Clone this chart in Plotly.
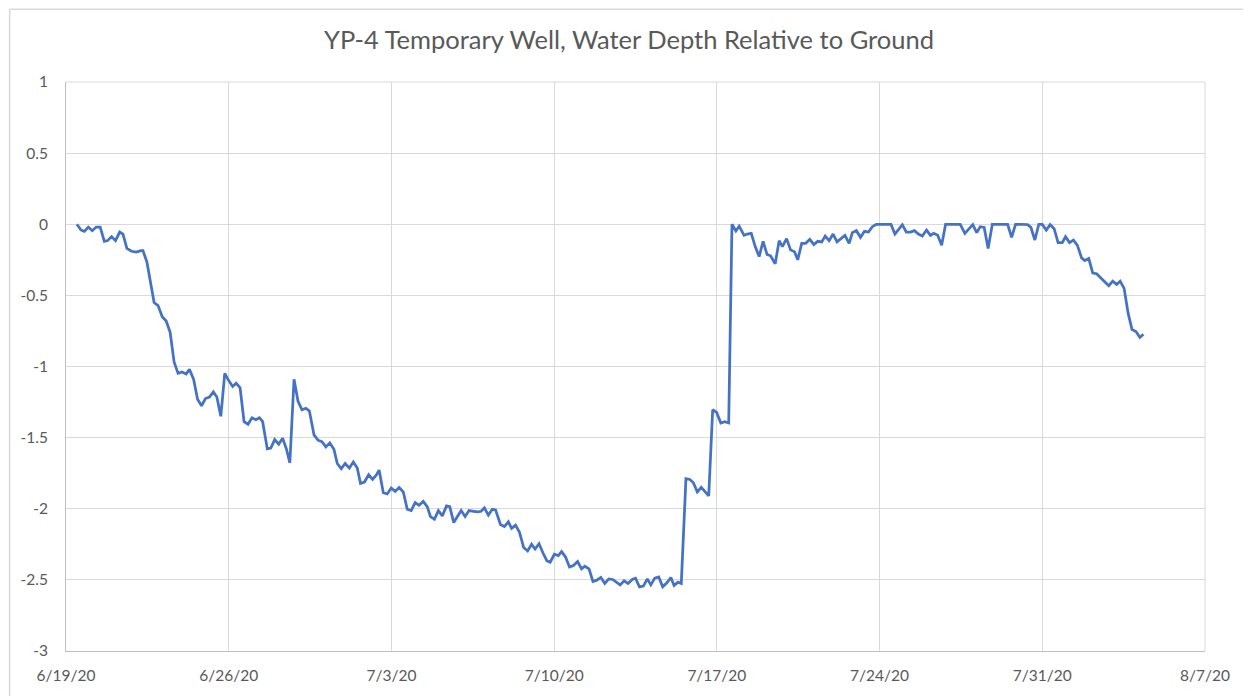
import pandas as pd
import plotly.graph_objects as go

# elapsed days since 6/19/20 00:00
days = [0.47, 0.64, 0.79, 0.96, 1.13, 1.30, 1.47, 1.65, 1.79, 1.96, 2.13, 2.31, 2.45, 2.62, 2.82, 3.02,
        3.22, 3.31, 3.48, 3.65, 3.79, 3.96, 4.14, 4.31, 4.48, 4.65, 4.82, 4.99, 5.17, 5.31, 5.49, 5.66,
        5.83, 6.00, 6.17, 6.34, 6.49, 6.66,
        6.83, 7.00, 7.17, 7.32, 7.49, 7.66, 7.83, 8.00, 8.17, 8.32, 8.46, 8.66, 8.81, 8.98, 9.15, 9.32,
        9.49, 9.63, 9.81, 9.98, 10.15, 10.32, 10.47, 10.67, 10.84, 11.01, 11.18, 11.35, 11.53, 11.67,
        11.84, 12.01, 12.19, 12.36, 12.53, 12.67, 12.84, 13.02, 13.19, 13.36, 13.47, 13.65, 13.82, 13.99,
        14.16, 14.33, 14.51, 14.68, 14.85, 15.02, 15.19, 15.37, 15.54, 15.68, 15.85, 16.02, 16.19, 16.37,
        16.51, 16.68, 16.85, 17.00,
        17.17, 17.34, 17.54, 17.71, 17.86, 18.00, 18.17, 18.34, 18.48, 18.69, 18.86, 19.03, 19.17, 19.34,
        19.51, 19.69, 19.86, 20.03, 20.18, 20.35, 20.52, 20.69, 20.83, 21.01, 21.18, 21.32, 21.49, 21.66,
        21.83, 22.01, 22.18, 22.32, 22.50, 22.67, 22.84, 23.01, 23.18, 23.35, 23.52, 23.70, 23.84, 24.01,
        24.18, 24.36, 24.50, 24.67, 24.84, 25.01, 25.16, 25.33, 25.50, 25.67, 25.85, 26.02, 26.16, 26.33,
        26.47, 26.67, 26.84, 26.99, 27.16, 27.33, 27.50, 27.65, 27.82, 27.99, 28.17, 28.34, 28.51,
        28.65, 28.82, 28.96, 29.17, 29.31, 29.48, 29.65, 29.82, 29.99, 30.16, 30.31, 30.51, 30.68, 30.82,
        31.00, 31.17, 31.34, 31.48, 31.65, 31.82, 32.00, 32.17, 32.34, 32.51, 32.66, 32.83, 33.00, 33.17,
        33.34, 33.51, 33.69, 33.83, 34.00, 34.18, 34.35, 34.52, 34.69, 34.86, 35.00, 35.18, 35.35, 35.49,
        35.66, 35.84, 35.98, 36.15, 36.33, 36.50, 36.67, 36.84, 37.02, 37.19, 37.33, 37.50, 37.67, 37.84,
        38.01, 38.19, 38.36, 38.47, 38.67, 38.84, 39.01, 39.18, 39.33, 39.50, 39.67, 39.85, 40.02, 40.19,
        40.36, 40.51, 40.68, 40.85, 41.02, 41.19, 41.37, 41.51, 41.68, 41.85, 42.00, 42.17, 42.34, 42.51,
        42.68, 42.86, 43.00, 43.17, 43.34, 43.51, 43.69, 43.83, 44.00, 44.17, 44.34, 44.51, 44.69, 44.86,
        45.03, 45.20, 45.35, 45.52, 45.69, 45.86, 46.03, 46.20, 46.35]

depth = [0.00, -0.04, -0.05, -0.02, -0.045, -0.02, -0.02, -0.12, -0.115, -0.087, -0.115, -0.055, -0.07,
         -0.17, -0.19, -0.195, -0.185, -0.185, -0.265, -0.437, -0.55, -0.572, -0.65, -0.68, -0.76, -0.968,
         -1.048, -1.038, -1.052, -1.02, -1.09, -1.23, -1.276, -1.225, -1.215, -1.178, -1.215, -1.35,
         -1.048, -1.099, -1.14, -1.117, -1.15, -1.388, -1.406, -1.36, -1.374, -1.36, -1.388, -1.579, -1.574,
         -1.514, -1.546, -1.504, -1.584, -1.677, -1.09, -1.243, -1.304, -1.294, -1.313, -1.481, -1.518,
         -1.528, -1.565, -1.537, -1.584, -1.682, -1.719, -1.682, -1.714, -1.672, -1.714, -1.822, -1.812,
         -1.761, -1.794, -1.761, -1.728, -1.887, -1.896, -1.854, -1.878, -1.85, -1.882, -2.003, -2.013,
         -1.957, -1.976, -1.948, -1.985, -2.055, -2.073, -2.013, -2.05, -1.98, -1.985, -2.097, -2.055,
         -2.013,
         -2.055, -2.013, -2.018, -2.022, -2.018, -1.994, -2.045, -2.004, -2.008, -2.111, -2.125, -2.092,
         -2.138, -2.115, -2.166, -2.273, -2.297, -2.25, -2.283, -2.246, -2.311, -2.367, -2.376, -2.32,
         -2.329, -2.301, -2.339, -2.409, -2.399, -2.371, -2.423, -2.404, -2.423, -2.511, -2.502, -2.483,
         -2.525, -2.493, -2.497, -2.516, -2.535, -2.507, -2.525, -2.497, -2.488, -2.549, -2.544, -2.493,
         -2.535, -2.488, -2.479, -2.549, -2.521, -2.483, -2.539, -2.516, -2.525, -1.789, -1.794, -1.817,
         -1.882, -1.85, -1.878, -1.91, -1.304, -1.323, -1.397, -1.388, -1.397,
         0.00, -0.047, -0.013, -0.078, -0.069, -0.064, -0.157, -0.227, -0.12, -0.213, -0.222, -0.278,
         -0.115, -0.157, -0.101, -0.18, -0.194, -0.25, -0.134, -0.134, -0.106, -0.143, -0.12, -0.124,
         -0.083, -0.115, -0.069, -0.124, -0.101, -0.078, -0.134, -0.059, -0.045, -0.092, -0.05, -0.055,
         -0.017, 0.00, 0.00, 0.00, 0.00, 0.00, -0.069, -0.031, -0.003, -0.055, -0.055, -0.045, -0.069,
         -0.083, -0.041, -0.078, -0.064, -0.078, -0.148, 0.00, 0.00, 0.00, 0.00, 0.00, -0.064, -0.036,
         -0.003, -0.059, -0.017, -0.022, -0.171, 0.00, 0.00, 0.00, 0.00, 0.00, -0.092, 0.00, 0.00, 0.00,
         -0.003, -0.022, -0.111, 0.00, 0.00, -0.041, -0.003, -0.031, -0.129, -0.129, -0.087, -0.129,
         -0.111, -0.148, -0.236, -0.255, -0.241, -0.343, -0.348, -0.376, -0.404, -0.432, -0.40, -0.423,
         -0.40, -0.451, -0.623, -0.74, -0.754, -0.796, -0.773]

y_tick_vals = [1, 0.5, 0, -0.5, -1, -1.5, -2, -2.5, -3]
y_tick_text = ["1", "0.5", "0", "-0.5", "-1", "-1.5", "-2", "-2.5", "-3"]

title_text = "YP-4 Temporary Well, Water Depth Relative to Ground"

assert len(days) == len(depth), (len(days), len(depth))

times = pd.Timestamp("2020-06-19") + pd.to_timedelta(days, unit="D")

fig = go.Figure()
fig.add_trace(go.Scatter(
    x=times, y=depth, mode="lines",
    line=dict(color="#4472C4", width=2.75),
    showlegend=False, hoverinfo="x+y",
))

W, H = 1243, 688
font_family = "Lato, 'Open Sans', sans-serif"
border = dict(color="#d9d9d9", width=1.5)
fig.update_layout(
    width=W, height=H,
    margin=dict(l=57, r=46, t=74, b=43),
    paper_bgcolor="white", plot_bgcolor="white",
    title=dict(text=title_text, x=621 / W, xref="container", xanchor="center",
               y=1 - 32 / H, yref="container", yanchor="middle",
               font=dict(family=font_family, size=25.5, color="#595959")),
    font=dict(family=font_family, size=15.5, color="#595959"),
    xaxis=dict(
        type="date",
        range=["2020-06-19", "2020-08-07"],
        tick0="2020-06-19", dtick=7 * 86400000,
        tickformat="%-m/%-d/%y",
        showgrid=True, gridcolor="#d9d9d9", gridwidth=1,
        showline=True, linecolor="#bfbfbf", linewidth=1,
        ticks="", ticklabelstandoff=10,
        zeroline=False,
        tickfont=dict(size=15.5, color="#595959"),
    ),
    yaxis=dict(
        range=[-3, 1],
        tickvals=y_tick_vals, ticktext=y_tick_text,
        showgrid=True, gridcolor="#d9d9d9", gridwidth=1,
        showline=True, linecolor="#bfbfbf", linewidth=1,
        ticks="", ticklabelstandoff=14,
        zeroline=False,
        tickfont=dict(size=15.5, color="#595959"),
    ),
    shapes=[
        dict(type="line", xref="paper", yref="paper",
             x0=-0.0495, x1=1.05, y0=1.128, y1=1.128, line=border, layer="below"),
        dict(type="line", xref="paper", yref="paper",
             x0=-0.0495, x1=-0.0495, y0=-0.1, y1=1.128, line=border, layer="below"),
        dict(type="line", xref="paper", yref="paper",
             x0=1, x1=1, y0=0, y1=1,
             line=dict(color="#d9d9d9", width=1)),
        dict(type="line", xref="paper", yref="paper",
             x0=0, x1=1, y0=1, y1=1,
             line=dict(color="#d9d9d9", width=1)),
    ],
)

fig.write_html("out.html")
